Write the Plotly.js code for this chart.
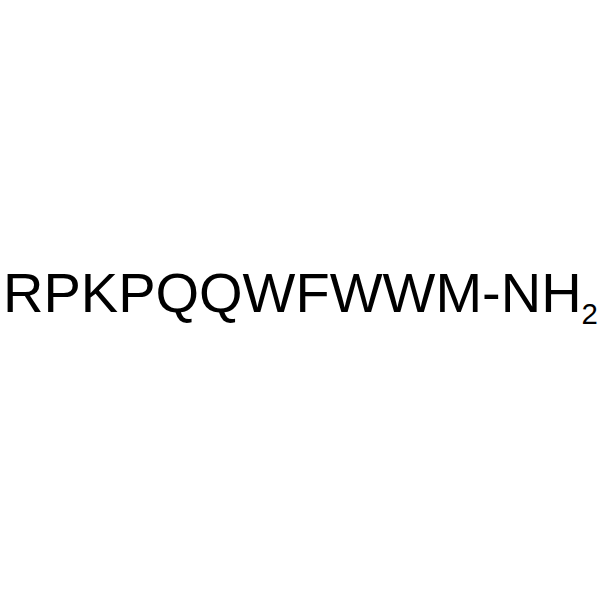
<!DOCTYPE html>
<html>
<head>
<meta charset="utf-8">
<script src="https://cdn.plot.ly/plotly-3.0.1.min.js"></script>
<style>html,body{margin:0;padding:0;background:#fff;}#chart{width:600px;height:600px;}</style>
</head>
<body>
<div id="chart"></div>
<script>
const residues = ['R','P','K','P','Q','Q','W','F','W','W','M'];
const cTerminus = 'NH';
const cTerminusSubscript = '2';

const label = residues.join('') + '-' + cTerminus +
  '<sub><span style="font-size:0.75em">' + cTerminusSubscript + '</span></sub>';

const layout = {
  width: 600, height: 600,
  margin: {l: 0, r: 0, t: 0, b: 0},
  paper_bgcolor: '#ffffff', plot_bgcolor: '#ffffff',
  xaxis: {visible: false, range: [0, 1], fixedrange: true},
  yaxis: {visible: false, range: [0, 1], fixedrange: true},
  showlegend: false,
  annotations: [{
    xref: 'paper', yref: 'paper', x: 0.5, y: 0.508,
    xanchor: 'center', yanchor: 'middle',
    text: label, showarrow: false,
    font: {family: 'Liberation Sans, Arial, sans-serif', size: 56, color: '#000000'}
  }]
};
Plotly.newPlot('chart', [], layout, {staticPlot: true, displayModeBar: false});
</script>
</body>
</html>
